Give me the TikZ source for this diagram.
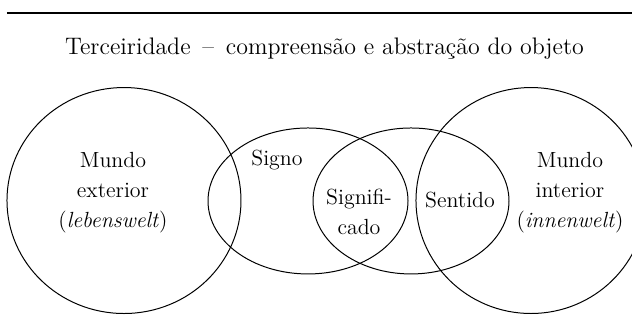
\documentclass[tikz,border=0pt]{standalone}
\usetikzlibrary{shapes.geometric}

\tikzset{
    mundo/.style={draw, ellipse, inner sep=0pt, line width=0.5pt},
    rotulo/.style={align=center, inner sep=0pt, font=\fontsize{11}{15}\selectfont}
}

\begin{document}
\begin{tikzpicture}
        \useasboundingbox (0,0) rectangle (11.148,-5.733);
        \clip (0,0) rectangle (11.148,-5.733);

        \draw[line width=1.25pt] (0.123,-0.229) -- (11.148,-0.229);

        \node[anchor=base, inner sep=0pt, font=\fontsize{12}{14}\selectfont] (titulo) at (5.724,-0.970)
            {Terceiridade \,--\, compreensão e abstração do objeto};

        \node[mundo, minimum width=4.128cm, minimum height=3.986cm] (exterior) at (2.187,-3.537) {};
        \node[mundo, minimum width=3.528cm, minimum height=2.575cm] (signo) at (5.433,-3.545) {};
        \node[mundo, minimum width=3.457cm, minimum height=2.575cm] (sentido) at (7.250,-3.545) {};
        \node[mundo, minimum width=4.057cm, minimum height=3.986cm] (interior) at (9.366,-3.537) {};

        \node[rotulo] (exteriorTexto) at (1.993,-3.404) {Mundo\\exterior\\(\textit{lebenswelt})};
        \node[rotulo] (signoTexto) at (4.886,-2.822) {Signo};
        \node[rotulo] (significadoTexto) at (6.332,-3.739) {Signifi-\\cado};
        \node[rotulo] (sentidoTexto) at (8.114,-3.528) {Sentido};
        \node[rotulo] (interiorTexto) at (10.054,-3.404) {Mundo\\interior\\(\textit{innenwelt})};
    \end{tikzpicture}
\end{document}
